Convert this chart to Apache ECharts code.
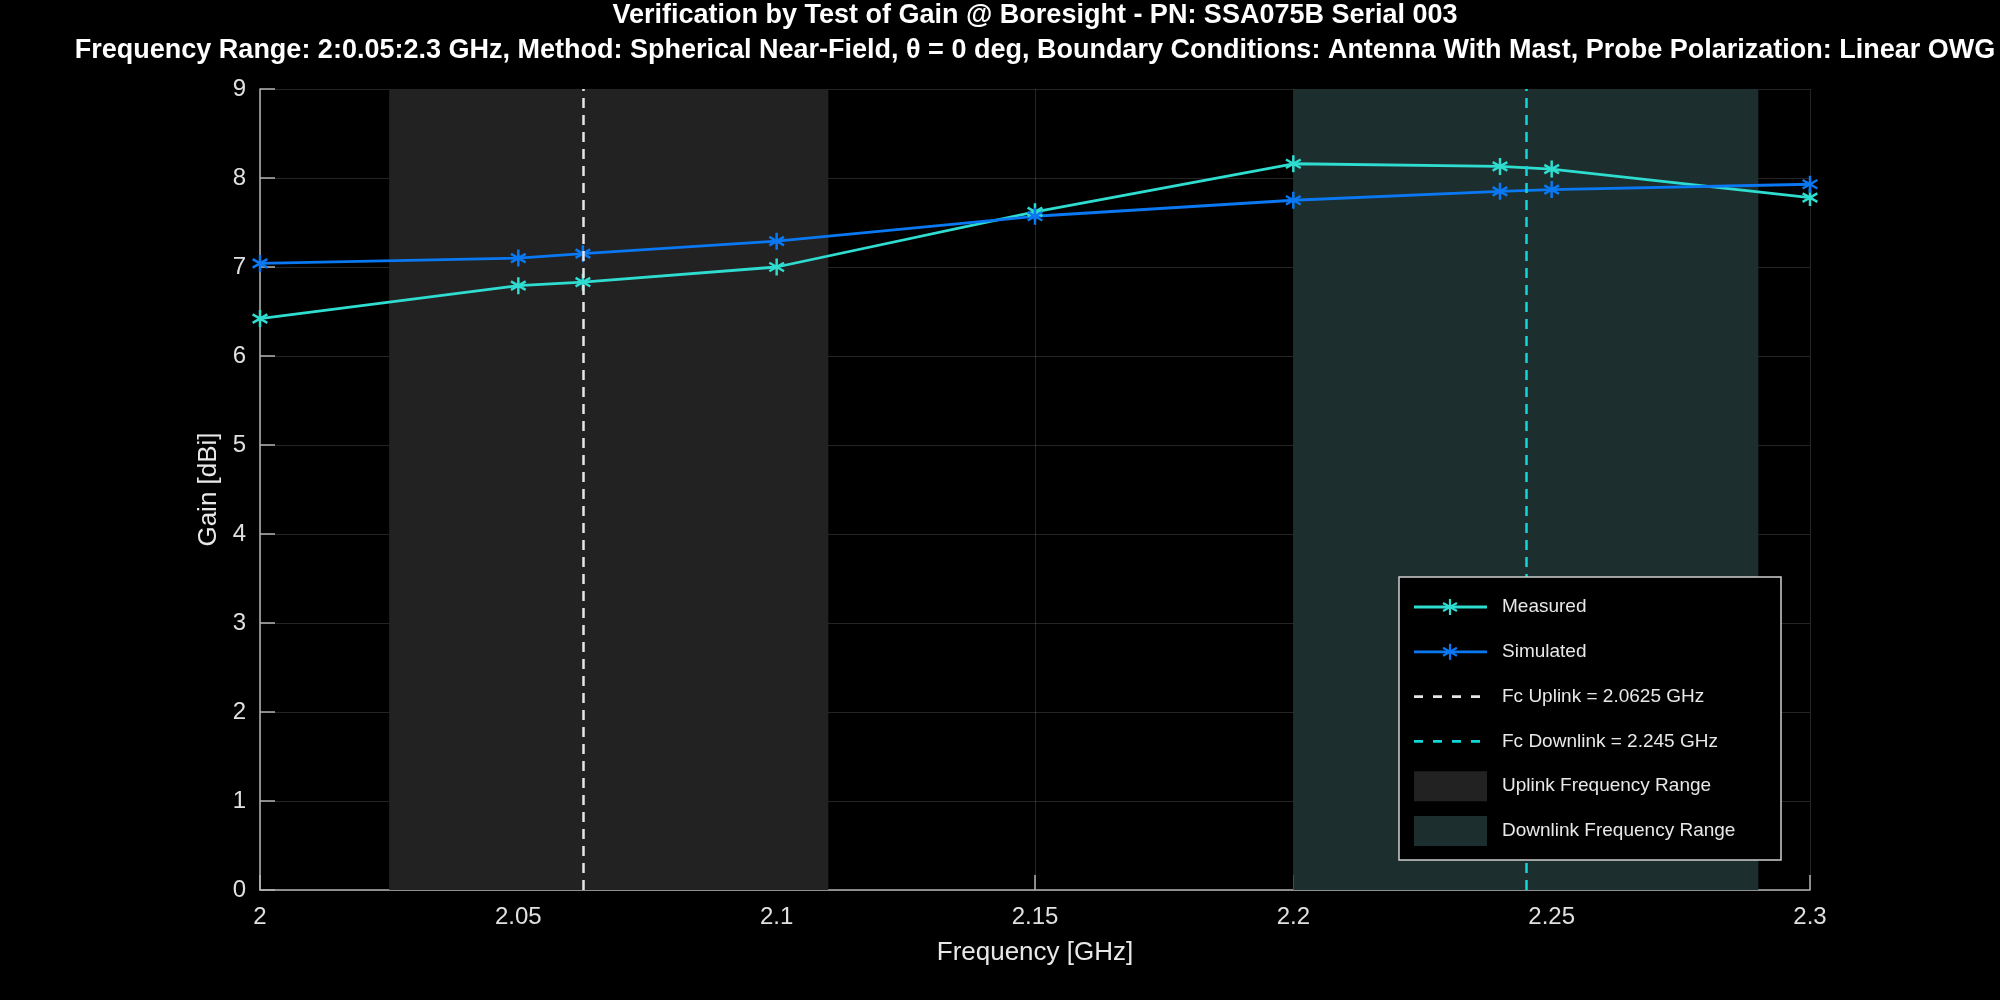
<!DOCTYPE html>
<html>
<head>
    <meta charset="utf-8">
    <title>Gain @ Boresight</title>
    <script src="https://cdn.jsdelivr.net/npm/echarts@6.0.0/dist/echarts.min.js"></script>
    <style>
        html, body { margin: 0; padding: 0; background: #000; }
    </style>
</head>
<body>
    <div id="main" style="width: 2000px; height: 1000px;"></div>
    <script>
        // data
        var freqGHz = [2, 2.05, 2.0625, 2.1, 2.15, 2.2, 2.24, 2.25, 2.3];
        var measuredGain = [6.42, 6.79, 6.83, 7.00, 7.62, 8.16, 8.13, 8.10, 7.78];
        var simulatedGain = [7.04, 7.10, 7.15, 7.29, 7.57, 7.75, 7.85, 7.87, 7.93];
        var fcUplink = 2.0625;
        var fcDownlink = 2.245;
        var uplinkRange = [2.025, 2.11];
        var downlinkRange = [2.2, 2.29];

        var titleText = 'Verification by Test of Gain @ Boresight - PN: SSA075B Serial 003';
        var subtitleText = 'Frequency Range: 2:0.05:2.3 GHz, Method: Spherical Near-Field, \u03b8 = 0 deg, Boundary Conditions: Antenna With Mast, Probe Polarization: Linear OWG';

        var COLOR_MEAS = '#2fdcd0';
        var COLOR_SIM = '#0a78f2';
        var COLOR_FC_UP = '#e6e6e6';
        var COLOR_FC_DOWN = '#10d8d8';
        var COLOR_UP_BAND = '#222222';
        var COLOR_DOWN_BAND = '#1c2e2e';
        var FONT = '"Liberation Sans", Arial, Helvetica, sans-serif';
        var STAR = 'path://M0,-10L0,10M-8.66,-5L8.66,5M-8.66,5L8.66,-5';

        var legendItems = [
            { name: 'Measured', kind: 'line', color: COLOR_MEAS },
            { name: 'Simulated', kind: 'line', color: COLOR_SIM },
            { name: 'Fc Uplink = 2.0625 GHz', kind: 'dash', color: COLOR_FC_UP },
            { name: 'Fc Downlink = 2.245 GHz', kind: 'dash', color: COLOR_FC_DOWN },
            { name: 'Uplink Frequency Range', kind: 'rect', color: COLOR_UP_BAND },
            { name: 'Downlink Frequency Range', kind: 'rect', color: COLOR_DOWN_BAND }
        ];

        var chartDom = document.getElementById('main');
        var myChart = echarts.init(chartDom);

        function pairs(xs, ys) {
            return xs.map(function (x, i) { return [x, ys[i]]; });
        }

        // asterisk built from three strokes (graphic has no generic path type)
        function starLines(cx, cy, r, color) {
            var dx = r * 0.866, dy = r * 0.5;
            return [[0, -r, 0, r], [-dx, -dy, dx, dy], [-dx, dy, dx, -dy]].map(function (s) {
                return {
                    type: 'line',
                    z: 101,
                    shape: { x1: cx + s[0], y1: cy + s[1], x2: cx + s[2], y2: cy + s[3] },
                    style: { stroke: color, lineWidth: 2.2 }
                };
            });
        }

        function buildLegend() {
            var left = 1399, top = 577, width = 382, height = 283;
            var rowY0 = 607, rowStep = 44.8;
            var children = [{
                type: 'rect',
                z: 100,
                shape: { x: left, y: top, width: width, height: height },
                style: { fill: '#000', stroke: '#d0d0d0', lineWidth: 1.5 }
            }];
            legendItems.forEach(function (item, i) {
                var y = rowY0 + i * rowStep;
                if (item.kind === 'line') {
                    children.push({
                        type: 'line',
                        z: 101,
                        shape: { x1: 1414, y1: y, x2: 1487, y2: y },
                        style: { stroke: item.color, lineWidth: 2.8 }
                    });
                    children = children.concat(starLines(1450, y, 8, item.color));
                } else if (item.kind === 'dash') {
                    children.push({
                        type: 'line',
                        z: 101,
                        shape: { x1: 1414, y1: y, x2: 1481, y2: y },
                        style: { stroke: item.color, lineWidth: 2.8, lineDash: [9, 10] }
                    });
                } else {
                    children.push({
                        type: 'rect',
                        z: 101,
                        shape: { x: 1414, y: y - 15, width: 73, height: 30 },
                        style: { fill: item.color }
                    });
                }
                children.push({
                    type: 'text',
                    z: 101,
                    style: {
                        x: 1502, y: y, text: item.name,
                        fill: '#e8e8e8', font: '19px ' + FONT,
                        align: 'left', verticalAlign: 'middle',
                        textAlign: 'left', textVerticalAlign: 'middle'
                    }
                });
            });
            return { type: 'group', silent: true, z: 100, children: children };
        }

        var axisCommon = {
            type: 'value',
            nameLocation: 'middle',
            nameTextStyle: { color: '#e8e8e8', fontSize: 26, fontFamily: FONT },
            axisLine: { show: true, lineStyle: { color: '#b4b4b4', width: 1.5 } },
            axisTick: { show: true, inside: true, length: 15, lineStyle: { color: '#b4b4b4', width: 1.5 } },
            splitLine: { show: true, lineStyle: { color: 'rgba(255,255,255,0.14)', width: 1 } }
        };

        var option = {
            backgroundColor: '#000',
            animation: false,
            grid: { left: 260, right: 190, top: 89, bottom: 110, containLabel: false },
            xAxis: Object.assign({}, axisCommon, {
                min: 2,
                max: 2.3,
                interval: 0.05,
                name: 'Frequency [GHz]',
                nameGap: 50,
                axisLabel: { color: '#e0e0e0', fontSize: 24, fontFamily: FONT, margin: 15 }
            }),
            yAxis: Object.assign({}, axisCommon, {
                min: 0,
                max: 9,
                interval: 1,
                name: 'Gain [dBi]',
                nameGap: 37,
                axisLabel: { color: '#e0e0e0', fontSize: 24, fontFamily: FONT, margin: 14 }
            }),
            graphic: [
                {
                    type: 'text',
                    style: {
                        x: 1035, y: 16, text: titleText,
                        fill: '#ffffff', font: 'bold 27px ' + FONT,
                        align: 'center', verticalAlign: 'middle',
                        textAlign: 'center', textVerticalAlign: 'middle'
                    }
                },
                {
                    type: 'text',
                    style: {
                        x: 1035, y: 51, text: subtitleText,
                        fill: '#ffffff', font: 'bold 27px ' + FONT,
                        align: 'center', verticalAlign: 'middle',
                        textAlign: 'center', textVerticalAlign: 'middle'
                    }
                },
                buildLegend()
            ],
            series: [
                {
                    // frequency bands, kept under grid lines and axes
                    type: 'line',
                    z: -1,
                    data: [],
                    silent: true,
                    markArea: {
                        silent: true,
                        label: { show: false },
                        data: [
                            [{ xAxis: uplinkRange[0], itemStyle: { color: COLOR_UP_BAND, opacity: 1 } }, { xAxis: uplinkRange[1] }],
                            [{ xAxis: downlinkRange[0], itemStyle: { color: COLOR_DOWN_BAND, opacity: 1 } }, { xAxis: downlinkRange[1] }]
                        ]
                    }
                },
                {
                    name: 'Measured',
                    type: 'line',
                    z: 3,
                    data: pairs(freqGHz, measuredGain),
                    symbol: STAR,
                    symbolSize: 17,
                    symbolKeepAspect: true,
                    showAllSymbol: true,
                    lineStyle: { color: COLOR_MEAS, width: 2.8 },
                    itemStyle: { color: COLOR_MEAS, borderColor: COLOR_MEAS, borderWidth: 2.5 }
                },
                {
                    name: 'Simulated',
                    type: 'line',
                    z: 3,
                    data: pairs(freqGHz, simulatedGain),
                    symbol: STAR,
                    symbolSize: 17,
                    symbolKeepAspect: true,
                    showAllSymbol: true,
                    lineStyle: { color: COLOR_SIM, width: 2.8 },
                    itemStyle: { color: COLOR_SIM, borderColor: COLOR_SIM, borderWidth: 2.5 }
                },
                {
                    // centre frequency markers
                    type: 'line',
                    z: 4,
                    data: [],
                    silent: true,
                    markLine: {
                        silent: true,
                        precision: 6,
                        symbol: ['none', 'none'],
                        label: { show: false },
                        data: [
                            { xAxis: fcUplink, lineStyle: { color: COLOR_FC_UP, width: 2.5, type: [10, 7] } },
                            { xAxis: fcDownlink, lineStyle: { color: COLOR_FC_DOWN, width: 2.5, type: [10, 7] } }
                        ]
                    }
                }
            ]
        };

        myChart.setOption(option);
    </script>
</body>
</html>
